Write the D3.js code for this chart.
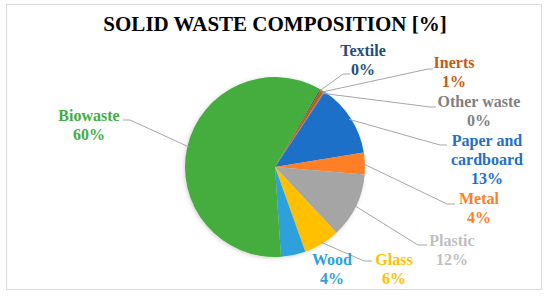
<!DOCTYPE html>
<html>
<head>
<meta charset="utf-8">
<script src="https://cdn.jsdelivr.net/npm/d3@7"></script>
<style>
  body { margin: 0; background: #fff; }
</style>
</head>
<body>
<script>
'use strict';

// data
const categories = ["Textile", "Inerts", "Other waste", "Paper and cardboard", "Metal", "Plastic", "Glass", "Wood", "Biowaste"];
const shares = [0.2, 0.6, 0.2, 13.1, 3.9, 11.7, 6.5, 4.4, 59.4];
const shownLabels = ["0%", "1%", "0%", "13%", "4%", "12%", "6%", "4%", "60%"];

// styles
const fills = ["#1F4E79", "#C55A11", "#7F7F7F", "#1F70C8", "#FF7F27", "#A5A5A5", "#FFC000", "#2EA0DC", "#44AD3E"];
const labelColors = ["#1F4E79", "#C55A11", "#7F7F7F", "#1F70C8", "#FF7F27", "#BFBFBF", "#FFC000", "#2EA0DC", "#44AD3E"];
const serif = "'Liberation Serif', 'Times New Roman', serif";

// label layout: text center x, first baseline y, leader elbow and end
const labelLayout = [
  { x: 363, y: 56, lines: ["Textile"], elbow: [343, 74], end: 350 },
  { x: 454, y: 68, lines: ["Inerts"], elbow: [428, 69], end: 433 },
  { x: 479, y: 107, lines: ["Other waste"], elbow: [430, 107], end: 436 },
  { x: 487, y: 146, lines: ["Paper and", "cardboard"], elbow: [440, 145], end: 447 },
  { x: 479, y: 204, lines: ["Metal"], elbow: [447, 204], end: 455 },
  { x: 452, y: 246, lines: ["Plastic"], elbow: [418, 245], end: 427 },
  { x: 394, y: 265, lines: ["Glass"], elbow: [364, 261], end: 372 },
  { x: 332, y: 265, lines: ["Wood"], elbow: null, end: null },
  { x: 89, y: 121, lines: ["Biowaste"], elbow: [130, 120], end: 123 }
];

const width = 550, height = 298;
const cx = 275, cy = 167, radius = 90;
const lineH = 19;

const svg = d3.select("body").append("svg")
    .attr("width", width)
    .attr("height", height);

svg.append("rect")
    .attr("x", 6.5).attr("y", 4.5)
    .attr("width", 535).attr("height", 285)
    .attr("fill", "#fff")
    .attr("stroke", "#D9D9D9");

svg.append("text")
    .attr("x", 275).attr("y", 31)
    .attr("text-anchor", "middle")
    .attr("font-family", serif)
    .attr("font-weight", "bold")
    .attr("font-size", 21)
    .attr("fill", "#000")
    .text("SOLID WASTE COMPOSITION [%]");

const defs = svg.append("defs");
const filt = defs.append("filter").attr("id", "sh")
    .attr("x", "-20%").attr("y", "-20%").attr("width", "140%").attr("height", "140%");
filt.append("feDropShadow")
    .attr("dx", -1).attr("dy", 1).attr("stdDeviation", 2)
    .attr("flood-color", "#000").attr("flood-opacity", 0.18);

const startAngle = 30 * Math.PI / 180;
const pie = d3.pie().sort(null)
    .startAngle(startAngle)
    .endAngle(startAngle + 2 * Math.PI);
const arcs = pie(shares);

const arc = d3.arc().innerRadius(0).outerRadius(radius);

const g = svg.append("g").attr("transform", `translate(${cx},${cy})`);

g.append("g").attr("filter", "url(#sh)")
  .selectAll("path")
  .data(arcs)
  .enter().append("path")
    .attr("d", arc)
    .attr("fill", (d, i) => fills[i]);

// leader lines
const edge = d3.arc().innerRadius(radius - 2).outerRadius(radius - 2);
arcs.forEach((d, i) => {
  const L = labelLayout[i];
  if (!L.elbow) return;
  const c = edge.centroid(d);
  const pts = [[cx + c[0], cy + c[1]], L.elbow, [L.end, L.elbow[1]]];
  svg.append("path")
      .attr("d", d3.line()(pts))
      .attr("fill", "none")
      .attr("stroke", "#A6A6A6")
      .attr("stroke-width", 1);
});

// labels
labelLayout.forEach((L, i) => {
  const t = svg.append("text")
      .attr("text-anchor", "middle")
      .attr("font-family", serif)
      .attr("font-weight", "bold")
      .attr("font-size", 16)
      .attr("fill", labelColors[i]);
  L.lines.concat([shownLabels[i]]).forEach((s, k) => {
    t.append("tspan")
        .attr("x", L.x)
        .attr("y", L.y + k * lineH)
        .text(s);
  });
});
</script>
</body>
</html>
